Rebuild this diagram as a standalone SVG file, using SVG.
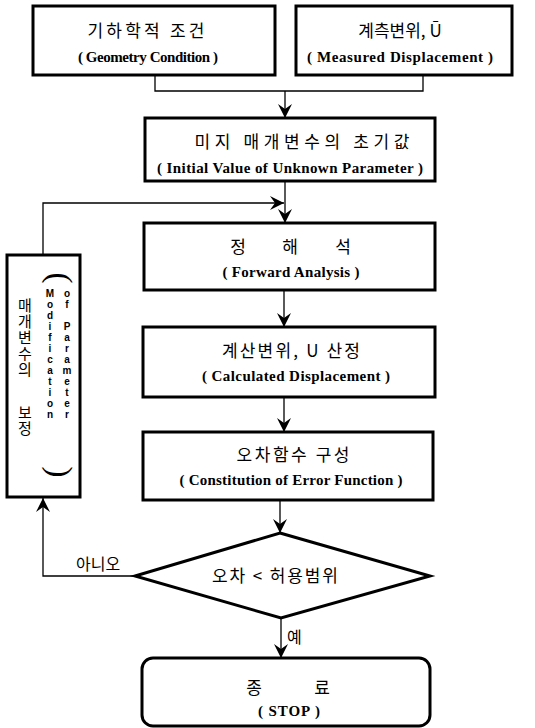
<svg xmlns="http://www.w3.org/2000/svg" width="535" height="728" viewBox="0 0 535 728">
<style>
.box{fill:#fff;stroke:#000;stroke-width:3}
.ko{font-family:"Noto Sans CJK KR","Noto Sans",sans-serif;font-size:17px;fill:#000}
.kl{font-family:"Noto Sans CJK KR","Noto Sans",sans-serif;font-size:16px;fill:#000}
.en{font-family:"Liberation Serif",serif;font-weight:bold;font-size:15px;fill:#000}
.vk{font-family:"Noto Sans CJK KR","Noto Sans",sans-serif;font-size:15px;fill:#000;writing-mode:vertical-rl;text-orientation:upright;letter-spacing:1px}
.ve{font-family:"Liberation Sans Narrow","Liberation Sans",sans-serif;font-weight:bold;font-size:10px;fill:#000;writing-mode:vertical-rl;text-orientation:upright}
.par{font-family:"Liberation Serif",serif;font-size:33px;fill:#000;text-anchor:middle}
.c{text-anchor:middle}
.ln{fill:none;stroke:#000;stroke-width:1.3}
</style>
<defs>
<marker id="ah" markerUnits="userSpaceOnUse" markerWidth="15" markerHeight="14" refX="14" refY="7" orient="auto" viewBox="0 0 15 14">
<path d="M0,0 L14,7 L0,14 L5,7 Z" fill="#000"/>
</marker>
</defs>
<rect width="535" height="728" fill="#fff"/>
<g id="connectors">
<path class="ln" d="M155,75 V91 H423 V75"/>
<path class="ln" d="M285,91 V118" marker-end="url(#ah)"/>
<path class="ln" d="M285,181 V223" marker-end="url(#ah)"/>
<path class="ln" d="M43,255 V203 H284" marker-end="url(#ah)"/>
<path class="ln" d="M284,290 V327" marker-end="url(#ah)"/>
<path class="ln" d="M284,397 V432" marker-end="url(#ah)"/>
<path class="ln" d="M280,500 V533" marker-end="url(#ah)"/>
<path class="ln" d="M281,618 V658" marker-end="url(#ah)"/>
<path class="ln" d="M135,576 H43 V498" marker-end="url(#ah)"/>
<text class="kl" x="76" y="570">아니오</text>
<text class="kl" x="287" y="643">예</text>
</g>
<g id="geometry">
<rect class="box" x="33" y="6" width="242" height="69"/>
<text class="ko c" x="146" y="37" textLength="117" lengthAdjust="spacing">기하학적 조건</text>
<text class="en c" x="148" y="62" textLength="140" lengthAdjust="spacing">( Geometry Condition )</text>
</g>
<g id="measured">
<rect class="box" x="296" y="6" width="216" height="69"/>
<text class="ko c" x="400" y="37">계측변위, Ū</text>
<text class="en c" x="400" y="62" textLength="186" lengthAdjust="spacing">( Measured Displacement )</text>
</g>
<g id="initial">
<rect class="box" x="145" y="118" width="290" height="63"/>
<text class="ko c" x="302" y="148" textLength="215" lengthAdjust="spacing">미지 매개변수의 초기값</text>
<text class="en c" x="290" y="173" textLength="266" lengthAdjust="spacing">( Initial Value of Unknown Parameter )</text>
</g>
<g id="forward">
<rect class="box" x="144" y="223" width="291" height="67"/>
<text class="ko c" x="238" y="253">정</text>
<text class="ko c" x="290" y="253">해</text>
<text class="ko c" x="343" y="253">석</text>
<text class="en c" x="291" y="277" textLength="137" lengthAdjust="spacing">( Forward Analysis )</text>
</g>
<g id="calculated">
<rect class="box" x="143" y="327" width="292" height="70"/>
<text class="ko c" x="291" y="357" textLength="138" lengthAdjust="spacing">계산변위, U 산정</text>
<text class="en c" x="296" y="381" textLength="188" lengthAdjust="spacing">( Calculated Displacement )</text>
</g>
<g id="constitution">
<rect class="box" x="143" y="432" width="290" height="68"/>
<text class="ko c" x="293" y="461" textLength="113" lengthAdjust="spacing">오차함수 구성</text>
<text class="en c" x="291" y="485" textLength="223" lengthAdjust="spacing">( Constitution of Error Function )</text>
</g>
<g id="decision">
<polygon class="box" points="280,533 430,576 281,618 135,576"/>
<text class="ko c" x="275" y="582" textLength="126" lengthAdjust="spacing">오차 &lt; 허용범위</text>
</g>
<g id="stop">
<rect class="box" x="142" y="658" width="288" height="68" rx="11" ry="11"/>
<text class="ko c" x="254" y="694">종</text>
<text class="ko c" x="322" y="694">료</text>
<text class="en c" x="289" y="716" textLength="62" lengthAdjust="spacing">( STOP )</text>
</g>
<g id="modification">
<rect class="box" x="7" y="255" width="73" height="242"/>
<text class="vk" x="25" y="298">매개변수의</text>
<text class="vk" x="25" y="405">보정</text>
<text class="par" transform="translate(57.5,278) rotate(90)" y="8.5">(</text>
<text class="par" transform="translate(57.5,472) rotate(90)" y="8.5">)</text>
<text class="ve" x="50" y="288">Modification</text>
<text class="ve" x="67" y="288">of Parameter</text>
</g>
</svg>
